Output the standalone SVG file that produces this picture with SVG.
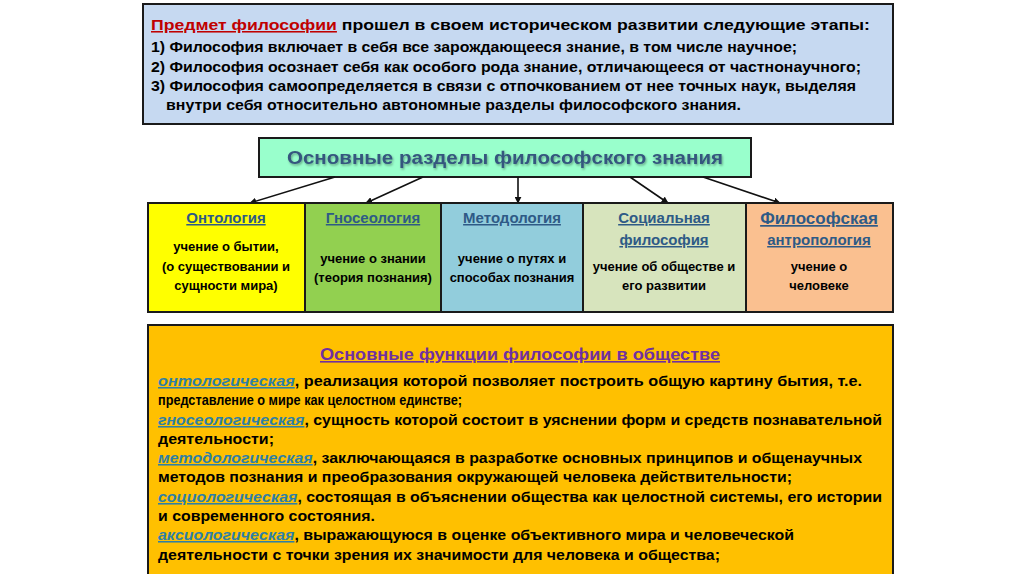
<svg xmlns="http://www.w3.org/2000/svg" width="1024" height="574" viewBox="0 0 1024 574">
<defs>
<style>
text{font-family:"Liberation Sans",Arial,sans-serif;font-weight:bold;fill:#000}
.box{stroke:#1a1a1a;stroke-width:2}
.hd{fill:#2e5a86;text-decoration:underline;font-size:15px;text-anchor:middle}
.bd{font-size:13px;text-anchor:middle}
.top{font-size:15.5px}
.fn{font-size:15.5px}
.fk{fill:#2e7fa6;font-style:italic;text-decoration:underline}
.conn{stroke:#111;stroke-width:1.6;fill:none;marker-end:url(#ah)}
</style>
<marker id="ah" viewBox="0 0 10 10" refX="9" refY="5" markerWidth="7" markerHeight="7" orient="auto" markerUnits="userSpaceOnUse"><path d="M0,0 L10,5 L0,10 z" fill="#111"/></marker>
<filter id="sh" x="-5%" y="-20%" width="110%" height="140%"><feDropShadow dx="1" dy="1.5" stdDeviation="0.8" flood-color="#000" flood-opacity="0.35"/></filter>
</defs>
<rect width="1024" height="574" fill="#fff"/>

<g id="intro">
<rect class="box" x="143" y="4" width="750" height="120" fill="#c6d9f1"/>
<text class="top" x="151" y="30" font-size="16.5" textLength="719" lengthAdjust="spacingAndGlyphs"><tspan fill="#c00000" text-decoration="underline">Предмет философии</tspan> прошел в своем историческом развитии следующие этапы:</text>
<text class="top" x="151" y="52" textLength="646" lengthAdjust="spacingAndGlyphs">1) Философия включает в себя все зарождающееся знание, в том числе научное;</text>
<text class="top" x="151" y="72" textLength="710" lengthAdjust="spacingAndGlyphs">2) Философия осознает себя как особого рода знание, отличающееся от частнонаучного;</text>
<text class="top" x="151" y="91" textLength="705" lengthAdjust="spacingAndGlyphs">3) Философия самоопределяется в связи с отпочкованием от нее точных наук, выделяя</text>
<text class="top" x="166" y="110" textLength="575" lengthAdjust="spacingAndGlyphs">внутри себя относительно автономные разделы философского знания.</text>
</g>

<g id="main">
<rect class="box" x="259" y="138" width="492" height="39" fill="#99ffcc"/>
<text x="505" y="164" font-size="18" text-anchor="middle" fill="#34577e" style="fill:#34577e" filter="url(#sh)" textLength="436" lengthAdjust="spacingAndGlyphs">Основные разделы философского знания</text>
</g>

<g id="connectors">
<line class="conn" x1="335" y1="177" x2="250" y2="203"/>
<line class="conn" x1="423" y1="177" x2="366" y2="203"/>
<line class="conn" x1="518" y1="177" x2="518" y2="203"/>
<line class="conn" x1="630" y1="177" x2="668" y2="203"/>
<line class="conn" x1="703" y1="177" x2="780" y2="203"/>
</g>

<g id="ontology">
<rect class="box" x="148" y="203" width="157" height="109" fill="#ffff00"/>
<text class="hd" x="226" y="223">Онтология</text>
<text class="bd" x="226" y="251">учение о бытии,</text>
<text class="bd" x="226" y="271">(о существовании и</text>
<text class="bd" x="226" y="290">сущности мира)</text>
</g>

<g id="gnoseology">
<rect class="box" x="305" y="203" width="136" height="109" fill="#92d050"/>
<text class="hd" x="373" y="223">Гносеология</text>
<text class="bd" x="373" y="263">учение о знании</text>
<text class="bd" x="373" y="282">(теория познания)</text>
</g>

<g id="methodology">
<rect class="box" x="441" y="203" width="142" height="109" fill="#92cddc"/>
<text class="hd" x="512" y="223">Методология</text>
<text class="bd" x="512" y="263">учение о путях и</text>
<text class="bd" x="512" y="282">способах познания</text>
</g>

<g id="social">
<rect class="box" x="583" y="203" width="163" height="109" fill="#d7e4bd"/>
<text class="hd" x="664" y="223">Социальная</text>
<text class="hd" x="664" y="245">философия</text>
<text class="bd" x="664" y="271">учение об обществе и</text>
<text class="bd" x="664" y="290">его развитии</text>
</g>

<g id="anthropology">
<rect class="box" x="746" y="203" width="147" height="109" fill="#fac090"/>
<text class="hd" x="819" y="224" style="font-size:17px">Философская</text>
<text class="hd" x="819" y="245">антропология</text>
<text class="bd" x="819" y="271">учение о</text>
<text class="bd" x="819" y="290">человеке</text>
</g>

<g id="functions">
<rect class="box" x="148" y="325" width="745" height="260" fill="#ffc000"/>
<text x="520" y="360" font-size="16" text-anchor="middle" fill="#7030a0" style="fill:#7030a0" text-decoration="underline" textLength="400" lengthAdjust="spacingAndGlyphs">Основные функции философии в обществе</text>
<text class="fn" x="158" y="386" textLength="704" lengthAdjust="spacingAndGlyphs"><tspan class="fk">онтологическая</tspan>, реализация которой позволяет построить общую картину бытия, т.е.</text>
<text class="fn" x="158" y="405" textLength="304" lengthAdjust="spacingAndGlyphs">представление о мире как целостном единстве;</text>
<text class="fn" x="158" y="425" textLength="724" lengthAdjust="spacingAndGlyphs"><tspan class="fk">гносеологическая</tspan>, сущность которой состоит в уяснении форм и средств познавательной</text>
<text class="fn" x="158" y="444" textLength="116" lengthAdjust="spacingAndGlyphs">деятельности;</text>
<text class="fn" x="158" y="463" textLength="704" lengthAdjust="spacingAndGlyphs"><tspan class="fk">методологическая</tspan>, заключающаяся в разработке основных принципов и общенаучных</text>
<text class="fn" x="158" y="482" textLength="634" lengthAdjust="spacingAndGlyphs">методов познания и преобразования окружающей человека действительности;</text>
<text class="fn" x="158" y="502" textLength="724" lengthAdjust="spacingAndGlyphs"><tspan class="fk">социологическая</tspan>, состоящая в объяснении общества как целостной системы, его истории</text>
<text class="fn" x="158" y="521" textLength="217" lengthAdjust="spacingAndGlyphs">и современного состояния.</text>
<text class="fn" x="158" y="540" textLength="636" lengthAdjust="spacingAndGlyphs"><tspan class="fk">аксиологическая</tspan>, выражающуюся в оценке объективного мира и человеческой</text>
<text class="fn" x="158" y="560" textLength="562" lengthAdjust="spacingAndGlyphs">деятельности с точки зрения их значимости для человека и общества;</text>
</g>
</svg>
